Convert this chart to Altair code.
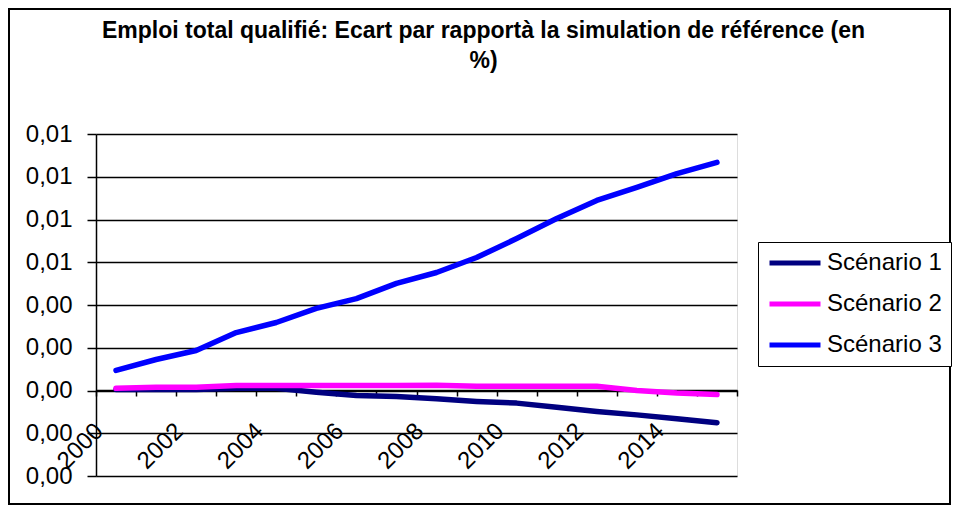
import altair as alt
import pandas as pd

years = list(range(2000, 2016))
scenario_1 = [0.00005, 0.00005, 0.00005, 0.0001, 0.0001, -0.00008, -0.00023, -0.00028,
              -0.00039, -0.00051, -0.00059, -0.00078, -0.00098, -0.00114, -0.00132, -0.00151]
scenario_2 = [0.0001, 0.00015, 0.00015, 0.00023, 0.00023, 0.00023, 0.00023, 0.00023,
              0.00025, 0.0002, 0.0002, 0.0002, 0.0002, 0.0, -0.00012, -0.00019]
scenario_3 = [0.00094, 0.00145, 0.00187, 0.00271, 0.00318, 0.00384, 0.0043, 0.00501,
              0.00552, 0.00622, 0.00711, 0.00805, 0.00889, 0.0095, 0.01015, 0.01067]
series_names = ["Scénario 1", "Scénario 2", "Scénario 3"]
series_colors = ["#000080", "#FF00FF", "#0000FF"]
y_ticks = [-0.004, -0.002, 0.0, 0.002, 0.004, 0.006, 0.008, 0.010, 0.012]
title_lines = ["Emploi total qualifié: Ecart par rapportà la simulation de référence (en", "%)"]

rows = []
for name, vals in zip(series_names, [scenario_1, scenario_2, scenario_3]):
    for yr, v in zip(years, vals):
        rows.append({"year": yr, "value": v, "series": name})
df = pd.DataFrame(rows)

W, H = 641, 342
PL, PT, PR, PB = 88, 126, 215, 30

lines = alt.Chart(df).mark_line(strokeWidth=5.5, strokeCap="round", strokeJoin="round").encode(
    x=alt.X("year:O", title=None,
            scale=alt.Scale(paddingInner=0, paddingOuter=0),
            axis=alt.Axis(offset=-86, tickBand="extent", tickSize=6, tickColor="black",
                          tickWidth=1.5, domainColor="black", domainWidth=1.5,
                          labelAngle=-45, labelAlign="right", labelBaseline="middle",
                          labelOffset=-17, labelPadding=31, labelFontSize=24,
                          labelFont="Liberation Sans", labelColor="black",
                          labelExpr="datum.value % 2 == 0 ? datum.label : ''",
                          grid=False, labelOverlap=False)),
    y=alt.Y("value:Q", title=None,
            scale=alt.Scale(domain=[-0.004, 0.012], nice=False, zero=False),
            axis=alt.Axis(values=y_ticks, tickSize=9, tickColor="black", tickWidth=1.5,
                          domainColor="black", domainWidth=1.5, grid=True, gridColor="black",
                          gridWidth=1.5, labelFontSize=24, labelFont="Liberation Sans",
                          labelColor="black", labelPadding=15,
                          labelExpr="replace(format(datum.value, '.2f'), '.', ',')")),
    color=alt.Color("series:N", title=None,
                    scale=alt.Scale(domain=series_names, range=series_colors),
                    legend=alt.Legend(orient="none", legendX=662, legendY=108,
                                      symbolType="stroke", symbolSize=2600,
                                      symbolStrokeWidth=5, labelFontSize=24,
                                      labelFont="Liberation Sans", labelColor="black",
                                      clipHeight=24, rowPadding=17, padding=9,
                                      strokeColor="black", fillColor="white",
                                      labelOffset=4, labelLimit=300)),
    order=alt.Order("series:N"),
)

border = alt.Chart(pd.DataFrame({"a": [0]})).mark_rect(
    fill=None, stroke="black", strokeWidth=2).encode(
    x=alt.value(-87), x2=alt.value(W + PR - 2),
    y=alt.value(-PT + 1), y2=alt.value(H + PB - 2))

chart = alt.layer(border, lines).properties(
    width=W, height=H,
    autosize=alt.AutoSizeParams(type="none"),
    padding={"left": PL, "top": PT, "right": PR, "bottom": PB},
    title=alt.TitleParams(title_lines, fontSize=23, font="Liberation Sans", fontWeight="bold",
                          color="black", lineHeight=30, offset=-65, dx=67, anchor="middle",
                          frame="group"),
).configure_view(fill="#C0C0C0", stroke="#808080", strokeWidth=2).configure(background="white")

chart.save("out.html", embed_options={"renderer": "svg", "actions": False})
